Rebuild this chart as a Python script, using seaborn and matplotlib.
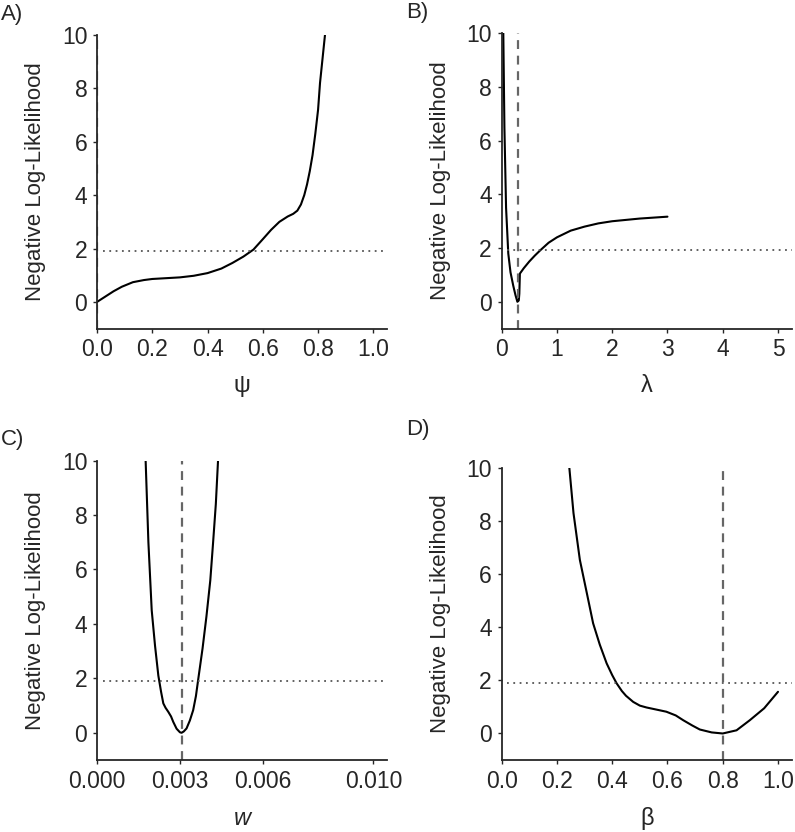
import numpy as np
import pandas as pd
import matplotlib
matplotlib.use("Agg")
import matplotlib.pyplot as plt
import seaborn as sns

# profile likelihood curves
psi = [0.0, 0.03, 0.06, 0.09, 0.13, 0.17, 0.2, 0.25, 0.3, 0.35, 0.4, 0.45, 0.49, 0.53, 0.566, 0.6, 0.63, 0.66, 0.69, 0.71, 0.725, 0.738, 0.75, 0.76, 0.77, 0.78, 0.79, 0.8, 0.807, 0.815, 0.825]
nll_psi = [0.0, 0.2, 0.4, 0.57, 0.74, 0.82, 0.86, 0.89, 0.92, 0.98, 1.08, 1.25, 1.46, 1.7, 1.96, 2.35, 2.7, 3.0, 3.2, 3.3, 3.42, 3.65, 4.0, 4.4, 4.9, 5.5, 6.3, 7.2, 8.2, 9.0, 10.0]

lam = [0.03, 0.05, 0.08, 0.12, 0.16, 0.21, 0.25, 0.285, 0.31, 0.32, 0.33, 0.4, 0.5, 0.6, 0.7, 0.85, 1.0, 1.25, 1.5, 1.75, 2.0, 2.5, 3.0]
nll_lam = [10.0, 6.5, 3.5, 1.8, 1.1, 0.6, 0.25, 0.0, 0.05, 0.3, 1.05, 1.25, 1.5, 1.72, 1.92, 2.2, 2.4, 2.65, 2.8, 2.92, 3.0, 3.1, 3.17]

w = [0.00176, 0.00186, 0.00198, 0.0021, 0.00222, 0.00232, 0.0024, 0.00248, 0.00258, 0.00268, 0.00276, 0.00288, 0.003, 0.00306, 0.00314, 0.00324, 0.00336, 0.00348, 0.00358, 0.00366, 0.00382, 0.00396, 0.0041, 0.0042, 0.0043, 0.00438]
nll_w = [10.0, 7.0, 4.5, 3.2, 2.1, 1.5, 1.08, 0.92, 0.77, 0.6, 0.4, 0.15, 0.02, 0.0, 0.05, 0.16, 0.45, 0.83, 1.35, 1.94, 3.1, 4.27, 5.6, 6.97, 8.4, 10.0]

beta = [0.245, 0.26, 0.283, 0.31, 0.331, 0.355, 0.38, 0.4, 0.416, 0.435, 0.45, 0.476, 0.5, 0.524, 0.56, 0.596, 0.63, 0.657, 0.69, 0.717, 0.76, 0.8, 0.85, 0.898, 0.95, 1.0]
nll_beta = [10.0, 8.3, 6.54, 5.2, 4.15, 3.35, 2.64, 2.2, 1.89, 1.6, 1.42, 1.19, 1.05, 0.98, 0.9, 0.82, 0.68, 0.5, 0.3, 0.15, 0.04, 0.0, 0.12, 0.5, 0.95, 1.57]

cutoff = 1.92  # chi2(1)/2
mle = {"A": 0.0, "B": 0.3, "C": 0.00306, "D": 0.8}

sns.set_style("ticks")
plt.rcParams['font.family'] = ['Liberation Sans', 'DejaVu Sans']

fig = plt.figure(figsize=(7.95, 8.32), dpi=100)

panels = [
    ("A", psi, nll_psi, "ψ", [0.122, 0.605, 0.365, 0.353], (0, 1.05), [0, 0.2, 0.4, 0.6, 0.8, 1.0], ["0.0", "0.2", "0.4", "0.6", "0.8", "1.0"]),
    ("B", lam, nll_lam, "λ", [0.631, 0.605, 0.365, 0.355], (0, 5.25), [0, 1, 2, 3, 4, 5], ["0", "1", "2", "3", "4", "5"]),
    ("C", w, nll_w, "w", [0.122, 0.0865, 0.365, 0.36], (0, 0.0105), [0, 0.003, 0.006, 0.010], ["0.000", "0.003", "0.006", "0.010"]),
    ("D", beta, nll_beta, "β", [0.631, 0.0865, 0.365, 0.351], (0, 1.05), [0, 0.2, 0.4, 0.6, 0.8, 1.0], ["0.0", "0.2", "0.4", "0.6", "0.8", "1.0"]),
]
label_y = {"A": 1.035, "B": 1.035, "C": 1.035, "D": 1.095}

for tag, xs, ys, xlab, rect, xl, xt, xtl in panels:
    ax = fig.add_axes(rect)
    df = pd.DataFrame({"x": xs, "y": ys})
    sns.lineplot(data=df, x="x", y="y", ax=ax, color="black", lw=1.5, sort=False)
    ax.axhline(cutoff, xmin=0.02, color="#555555", ls=(0, (1, 2.5)), lw=1.3)
    ax.vlines(mle[tag], -1, 10, color="#666666", ls=(0, (4, 3)), lw=1.6)
    ax.set_xlim(*xl)
    ax.set_ylim(-1, 10)
    ax.set_xticks(xt)
    ax.set_xticklabels(xtl)
    ax.set_yticks([0, 2, 4, 6, 8, 10])
    ax.tick_params(labelsize=16.5, length=3, width=1, direction="out", pad=4)
    sns.despine(ax=ax)
    for s in ["left", "bottom"]:
        ax.spines[s].set_linewidth(1.3)
    ax.set_ylabel("Negative Log-Likelihood", fontsize=16, labelpad=11)
    ax.set_xlabel(xlab, fontsize=17, labelpad=10, style="italic" if tag == "C" else "normal")
    ax.text(-0.33, label_y[tag], tag + ")", transform=ax.transAxes, fontsize=16, va="bottom")

fig.savefig("out.png", dpi=100)
